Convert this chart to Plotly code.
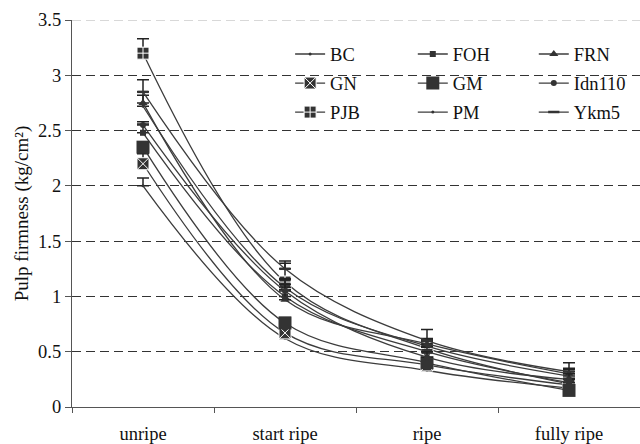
import plotly.graph_objects as go

categories = ["unripe", "start ripe", "ripe", "fully ripe"]

BC = [2.00, 0.62, 0.33, 0.17]
FOH = [2.48, 1.00, 0.50, 0.22]
FRN = [2.75, 0.97, 0.57, 0.30]
GN = [2.20, 0.67, 0.38, 0.20]
GM = [2.35, 0.76, 0.40, 0.15]
Idn110 = [2.55, 1.05, 0.45, 0.25]
PJB = [3.20, 1.13, 0.53, 0.21]
PM = [2.72, 1.08, 0.55, 0.28]
Ykm5 = [2.85, 1.25, 0.60, 0.32]

BC_err = [0.07, 0.05, 0.03, 0.03]
FOH_err = [0.08, 0.06, 0.04, 0.04]
FRN_err = [0.10, 0.18, 0.05, 0.05]
GN_err = [0.09, 0.05, 0.03, 0.03]
GM_err = [0.05, 0.05, 0.04, 0.04]
Idn110_err = [0.03, 0.06, 0.05, 0.05]
PJB_err = [0.13, 0.17, 0.06, 0.05]
PM_err = [0.10, 0.08, 0.06, 0.06]
Ykm5_err = [0.11, 0.07, 0.10, 0.08]

LINE = "#3c3c3c"
MK = "#333333"
FONT = "Liberation Serif"

series = [
    ("BC", BC, BC_err, dict(symbol="circle", size=3, color=MK), "legend"),
    ("GN", GN, GN_err, dict(symbol="square-x", size=12, color=MK, line=dict(color="white", width=1)), "legend"),
    ("PJB", PJB, PJB_err, dict(symbol="square-cross", size=12, color=MK, line=dict(color="white", width=1)), "legend"),
    ("FOH", FOH, FOH_err, dict(symbol="square", size=6, color=MK), "legend2"),
    ("GM", GM, GM_err, dict(symbol="square", size=13, color=MK), "legend2"),
    ("PM", PM, PM_err, dict(symbol="circle", size=3, color=MK), "legend2"),
    ("FRN", FRN, FRN_err, dict(symbol="triangle-up", size=8, color=MK), "legend3"),
    ("Idn110", Idn110, Idn110_err, dict(symbol="circle", size=6, color=MK), "legend3"),
    ("Ykm5", Ykm5, Ykm5_err, dict(symbol="line-ew", size=8, color=MK, line=dict(color=MK, width=2.5)), "legend3"),
]

fig = go.Figure()
for name, vals, err, mk, lg in series:
    fig.add_trace(go.Scatter(
        x=categories, y=vals, name=name, mode="lines+markers",
        line=dict(color=LINE, width=1.3, shape="spline", smoothing=1),
        marker=mk,
        error_y=dict(type="data", array=err, arrayminus=[0] * len(err), symmetric=False,
                     color="#222222", thickness=1.5, width=6),
        legend=lg, legendgroup=name,
    ))

legend_common = dict(
    font=dict(family=FONT, size=18.5, color="#111111"),
    bgcolor="rgba(0,0,0,0)", borderwidth=0,
    orientation="v", xanchor="left", yanchor="top",
    tracegroupgap=2, itemwidth=30,
)

fig.update_layout(
    width=640, height=444,
    margin=dict(l=72, r=0, t=20, b=37),
    paper_bgcolor="white", plot_bgcolor="white",
    font=dict(family=FONT, size=18.5, color="#111111"),
    showlegend=True,
    legend=dict(x=0.384, y=0.96, **legend_common),
    legend2=dict(x=0.600, y=0.96, **legend_common),
    legend3=dict(x=0.813, y=0.96, **legend_common),
    xaxis=dict(
        type="category", range=[-0.5, 3.5],
        showline=True, linecolor="#555555", linewidth=1.3,
        ticks="outside", ticklen=5, tickcolor="#555555", tickson="boundaries",
        showgrid=False, ticklabelstandoff=10,
        tickfont=dict(family=FONT, size=18.5, color="#111111"),
    ),
    yaxis=dict(
        range=[0, 3.5], dtick=0.5,
        showline=True, linecolor="#555555", linewidth=1.3,
        ticks="outside", ticklen=6, tickcolor="#555555",
        showgrid=True, gridcolor="#333333", gridwidth=1, griddash="9px,5px",
        zeroline=False,
        tickfont=dict(family=FONT, size=18.5, color="#111111"),
        title=dict(text="Pulp firmness (kg/cm²)", font=dict(family=FONT, size=19, color="#111111"), standoff=4),
    ),
    shapes=[
        dict(type="line", xref="paper", yref="y", x0=0, x1=1, y0=3.5, y1=3.5,
             line=dict(color="white", width=3), layer="between"),
        dict(type="line", xref="paper", yref="y", x0=0, x1=1, y0=3.5, y1=3.5,
             line=dict(color="#cccccc", width=1.5, dash="9px,5px"), layer="between"),
    ],
)

fig.write_html("out.html")
